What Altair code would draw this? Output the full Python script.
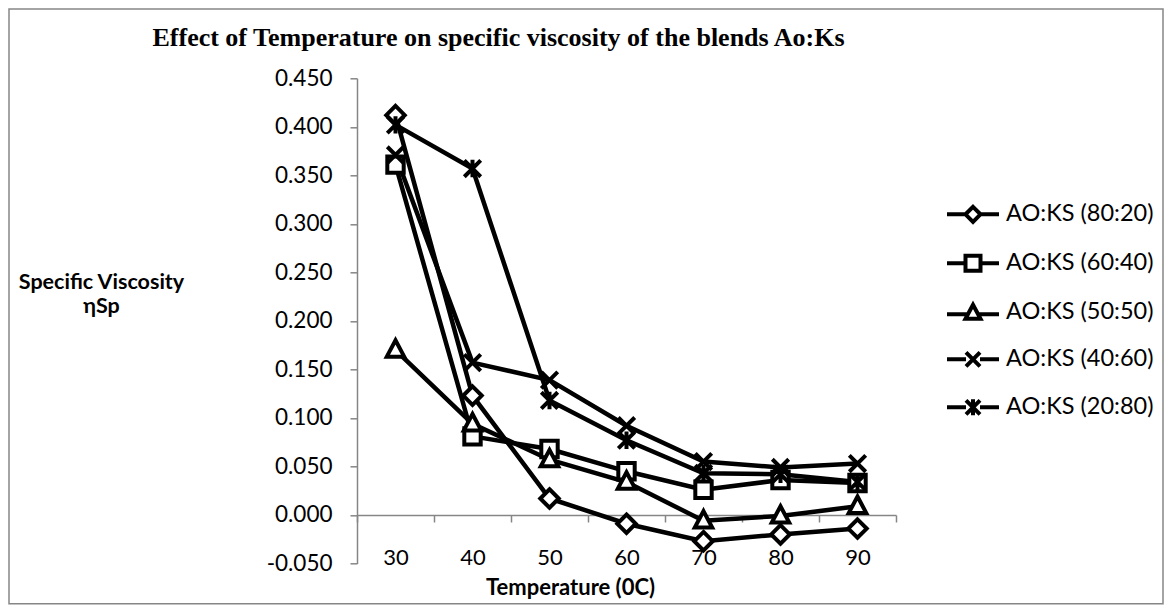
import altair as alt
import pandas as pd

temps = ["30", "40", "50", "60", "70", "80", "90"]
series = ["AO:KS (80:20)", "AO:KS (60:40)", "AO:KS (50:50)", "AO:KS (40:60)", "AO:KS (20:80)"]
v_80_20 = [0.412, 0.123, 0.017, -0.009, -0.027, -0.020, -0.014]
v_60_40 = [0.361, 0.081, 0.068, 0.045, 0.026, 0.036, 0.033]
v_50_50 = [0.170, 0.094, 0.057, 0.034, -0.006, -0.001, 0.009]
v_40_60 = [0.371, 0.157, 0.139, 0.092, 0.055, 0.049, 0.053]
v_20_80 = [0.402, 0.357, 0.118, 0.077, 0.043, 0.042, 0.034]
y_ticks = [-0.05, 0.0, 0.05, 0.10, 0.15, 0.20, 0.25, 0.30, 0.35, 0.40, 0.45]

rows = []
for name, vals in zip(series, [v_80_20, v_60_40, v_50_50, v_40_60, v_20_80]):
    for t, v in zip(temps, vals):
        rows.append({"temp": t, "series": name, "value": v})
df = pd.DataFrame(rows)

# marker shapes (unit = 10 px at size 400)
DIAMOND = "M0,-0.9L0.9,0L0,0.9L-0.9,0Z"
SQUARE = "M-0.8,-0.8H0.8V0.8H-0.8Z"
TRIANGLE = "M0,-0.95L0.85,0.65L-0.85,0.65Z"
XMARK = "M-0.8,-0.8L0.8,0.8M-0.8,0.8L0.8,-0.8"
STAR = "M-0.8,-0.8L0.8,0.8M-0.8,0.8L0.8,-0.8M0,-0.85V0.85"
marker_paths = [DIAMOND, SQUARE, TRIANGLE, XMARK, STAR]

LINE = "M-2.6,0H-0.75M0.75,0H2.6"
legend_paths = [
    LINE + "M0,-0.75L0.75,0L0,0.75L-0.75,0Z",
    LINE + "M-0.75,-0.75H0.75V0.75H-0.75Z",
    "M-2.6,0.2H-0.6M0.6,0.2H2.6M0,-0.75L0.75,0.65L-0.75,0.65Z",
    "M-2.6,0H-0.7M0.7,0H2.6M-0.7,-0.7L0.7,0.7M-0.7,0.7L0.7,-0.7",
    "M-2.6,0H-0.7M0.7,0H2.6M-0.7,-0.7L0.7,0.7M-0.7,0.7L0.7,-0.7M0,-0.8V0.8",
]

LABEL_FONT = "Lato"
GRAY = "#868686"

x_enc = alt.X(
    "temp:N",
    sort=temps,
    scale=alt.Scale(type="band", paddingInner=0, paddingOuter=0),
    axis=alt.Axis(
        title="Temperature (0C)",
        tickBand="extent",
        offset=-48.5,
        tickSize=7,
        labelPadding=25,
        labelAngle=0,
        domainColor=GRAY,
        tickColor=GRAY,
        domainWidth=1.5,
        tickWidth=1.5,
        labelFont=LABEL_FONT,
        labelFontSize=22,
        labelColor="black",
        titleFont=LABEL_FONT,
        titleFontSize=22,
        titleFontWeight="bold",
        titleColor="black",
        titleX=213,
        titleY=79,
        titleAlign="center",
        titleBaseline="alphabetic",
    ),
)
y_enc = alt.Y(
    "value:Q",
    scale=alt.Scale(domain=[-0.05, 0.45], nice=False, zero=False),
    axis=alt.Axis(
        values=y_ticks,
        labelExpr="replace(format(datum.value, '.3f'), '\u2212', '-')",
        grid=False,
        tickSize=7,
        labelPadding=18,
        domainColor=GRAY,
        tickColor=GRAY,
        domainWidth=1.5,
        tickWidth=1.5,
        labelFont=LABEL_FONT,
        labelFontSize=22.5,
        labelColor="black",
        title=["Specific Viscosity", "\u03b7Sp"],
        titleAngle=0,
        titleAlign="center",
        titleBaseline="alphabetic",
        titleX=-256,
        titleY=210,
        titleLineHeight=24,
        titleFont=LABEL_FONT,
        titleFontSize=21.5,
        titleFontWeight="bold",
        titleColor="black",
    ),
)

frame = alt.Chart(alt.Data(values=[{"k": 1}])).mark_rect(
    fill="transparent", stroke=GRAY, strokeWidth=1.5
).encode(
    x=alt.value(-348), x2=alt.value(806), y=alt.value(-69.3), y2=alt.value(525.5)
)

lines = alt.Chart(df).mark_line(color="black", strokeWidth=4.5).encode(
    x=x_enc, y=y_enc, detail="series:N"
)

points = alt.Chart(df).mark_point(
    filled=True, fill="white", stroke="black", strokeWidth=4, size=420, opacity=1
).encode(
    x=x_enc,
    y=y_enc,
    shape=alt.Shape("series:N", scale=alt.Scale(domain=series, range=marker_paths), legend=None),
)

legend_layer = alt.Chart(df).transform_filter("false").mark_point(
    filled=False, color="black", stroke="black", strokeWidth=4, size=400, opacity=1
).encode(
    x=x_enc,
    y=y_enc,
    shape=alt.Shape(
        "series:N",
        scale=alt.Scale(domain=series, range=legend_paths),
        legend=alt.Legend(
            title=None,
            orient="none",
            legendX=604,
            legendY=124,
            padding=0,
            symbolSize=400,
            symbolStrokeWidth=4,
            symbolStrokeColor="black",
            symbolFillColor="white",
            symbolOpacity=1,
            labelFont=LABEL_FONT,
            labelFontSize=23.5,
            labelColor="black",
            labelOffset=21,
            rowPadding=17,
            labelLimit=300,
        ),
    ),
)

chart = (
    alt.layer(frame, lines, points, legend_layer)
    .resolve_scale(shape="independent")
    .properties(
        width=539,
        height=485.2,
        padding={"left": 349, "top": 70.3, "right": 268, "bottom": 42.5},
        autosize="none",
        background="white",
        title=alt.TitleParams(
            text="Effect of Temperature on specific viscosity of  the blends Ao:Ks",
            font="Liberation Serif",
            fontSize=26,
            fontWeight="bold",
            color="black",
            anchor="middle",
            dx=-128,
            offset=-43,
        ),
    )
    .configure_view(stroke=None)
)

chart.save("out.html", embed_options={"renderer": "svg", "actions": False})
